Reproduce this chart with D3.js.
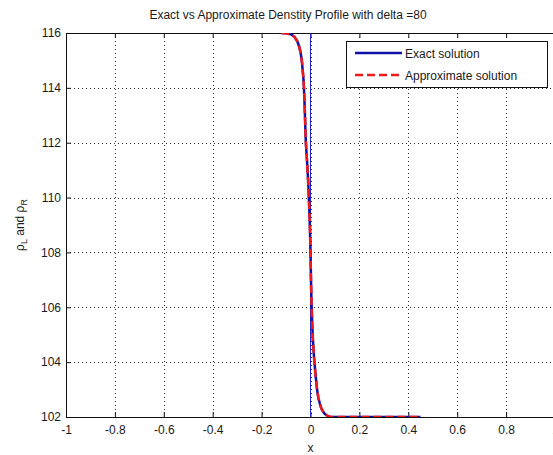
<!DOCTYPE html>
<html><head><meta charset="utf-8">
<script src="https://cdn.jsdelivr.net/npm/d3@7"></script>
<style>
body{margin:0;background:#fff;}
svg{display:block;font-family:"Liberation Sans",Arial,sans-serif;}
</style></head>
<body>
<svg id="c" width="553" height="455"></svg>
<script>
// ---- data ----
const xs = [-0.12,-0.1,-0.08,-0.065,-0.054,-0.046,-0.04,-0.035,-0.032,-0.029,-0.027,-0.025,-0.023,-0.021,-0.019,-0.014,-0.009,-0.005,-0.002,0.0,0.002,0.004,0.007,0.01,0.013,0.016,0.021,0.027,0.032,0.038,0.043,0.048,0.054,0.06,0.066,0.072,0.08,0.1,0.2,0.3,0.45];
const exactY = [116,115.99,115.95,115.85,115.7,115.5,115.26,114.95,114.65,114.35,114.04,113.6,113.1,112.5,112.0,111.3,110.5,109.6,108.8,108.0,107.0,106.2,105.4,104.8,104.35,104.0,103.5,103.0,102.7,102.5,102.35,102.25,102.16,102.1,102.06,102.03,102.01,102.0,102.0,102.0,102.0];
const approxY = [116,115.99,115.95,115.85,115.7,115.5,115.26,114.95,114.65,114.35,114.04,113.6,113.1,112.5,112.0,111.3,110.5,109.6,108.8,108.0,107.0,106.2,105.4,104.8,104.35,104.0,103.5,103.0,102.7,102.5,102.35,102.25,102.16,102.1,102.06,102.03,102.01,102.0,102.0,102.0,102.0];
const xTicks = [-1,-0.8,-0.6,-0.4,-0.2,0,0.2,0.4,0.6,0.8,1];
const xTickLabels = ["-1","-0.8","-0.6","-0.4","-0.2","0","0.2","0.4","0.6","0.8","1"];
const yTicks = [102,104,106,108,110,112,114,116];
const seriesNames = ["Exact solution","Approximate solution"];
const titleText = "Exact vs Approximate Denstity Profile with delta =80";

// ---- layout ----
const L = 66, R = 555, T = 33, B = 417;
const svg = d3.select("#c");
const x = d3.scaleLinear().domain([-1,1]).range([L,R]);
const y = d3.scaleLinear().domain([102,116]).range([B,T]);
const txt = "#1a1a1a";

svg.append("defs").append("clipPath").attr("id","clip")
  .append("rect").attr("x",L).attr("y",T).attr("width",R-L).attr("height",B-T);

// grid
const grid = svg.append("g").attr("stroke","#333").attr("stroke-width",1).attr("stroke-dasharray","1,3");
grid.selectAll(".gx").data(xTicks.filter(d=>d>-1&&d<1)).join("line")
  .attr("x1",d=>Math.round(x(d))+0.5).attr("x2",d=>Math.round(x(d))+0.5).attr("y1",T).attr("y2",B);
grid.selectAll(".gy").data(yTicks.filter(d=>d>102&&d<116)).join("line")
  .attr("y1",d=>Math.round(y(d))+0.5).attr("y2",d=>Math.round(y(d))+0.5).attr("x1",L).attr("x2",R);

// axes (MATLAB style inward ticks)
const axB = d3.axisBottom(x).tickValues(xTicks).tickFormat((d,i)=>xTickLabels[i]).tickSizeInner(-5).tickSizeOuter(0).tickPadding(8);
const gB = svg.append("g").attr("transform",`translate(0,${B})`).call(axB);
const axT = d3.axisTop(x).tickValues(xTicks).tickFormat("").tickSizeInner(-5).tickSizeOuter(0);
const gT = svg.append("g").attr("transform",`translate(0,${T})`).call(axT);
const axL = d3.axisLeft(y).tickValues(yTicks).tickSizeInner(-5).tickSizeOuter(0).tickPadding(5);
const gL = svg.append("g").attr("transform",`translate(${L},0)`).call(axL);
[gB,gT,gL].forEach(g=>{
  g.select(".domain").attr("stroke","#111").attr("stroke-width",1);
  g.selectAll(".tick line").attr("stroke","#111");
  g.selectAll("text").attr("fill",txt).attr("font-size",12).attr("font-family","Liberation Sans, Arial, sans-serif");
});

// vertical reference line at x=0
svg.append("line").attr("x1",x(0)).attr("x2",x(0)).attr("y1",T).attr("y2",B)
  .attr("stroke","#2424c0").attr("stroke-width",1);

// curves
const pts = (ys)=>xs.map((v,i)=>[v,ys[i]]);
const line = d3.line().x(d=>x(d[0])).y(d=>y(d[1])).curve(d3.curveMonotoneY);
const line2 = d3.line().x(d=>x(d[0])).y(d=>y(d[1]));
const plot = svg.append("g").attr("clip-path","url(#clip)");
plot.append("path").attr("d",line2(pts(exactY))).attr("fill","none")
  .attr("stroke","#1010a8").attr("stroke-width",2.5).attr("stroke-linejoin","round");
plot.append("path").attr("d",line2(pts(approxY))).attr("fill","none")
  .attr("stroke","#f01818").attr("stroke-width",2.5).attr("stroke-dasharray","8,4").attr("stroke-linejoin","round");

// title & labels
svg.append("text").attr("x",288).attr("y",19).attr("text-anchor","middle")
  .attr("font-size",12).attr("fill",txt).text(titleText);
svg.append("text").attr("x",x(0)).attr("y",452).attr("text-anchor","middle")
  .attr("font-size",12).attr("fill",txt).text("x");
const yl = svg.append("text").attr("transform",`translate(24,${(T+B)/2}) rotate(-90)`)
  .attr("text-anchor","middle").attr("font-size",12).attr("fill",txt);
yl.append("tspan").text("ρ");
yl.append("tspan").attr("font-size",9).attr("dy",3).text("L");
yl.append("tspan").attr("dy",-3).text(" and ");
yl.append("tspan").text("ρ");
yl.append("tspan").attr("font-size",9).attr("dy",3).text("R");

// legend
const lg = svg.append("g");
lg.append("rect").attr("x",346.5).attr("y",41.5).attr("width",201).attr("height",46)
  .attr("fill","#fff").attr("stroke","#111").attr("stroke-width",1);
const lgY = [53,75];
lg.append("line").attr("x1",355).attr("x2",402).attr("y1",lgY[0]).attr("y2",lgY[0])
  .attr("stroke","#1010a8").attr("stroke-width",2.5);
lg.append("line").attr("x1",355).attr("x2",402).attr("y1",lgY[1]).attr("y2",lgY[1])
  .attr("stroke","#f01818").attr("stroke-width",2.5).attr("stroke-dasharray","8,4");
seriesNames.forEach((n,i)=>{
  lg.append("text").attr("x",405).attr("y",lgY[i]+4.5).attr("font-size",12).attr("fill",txt).text(n);
});
</script>
</body></html>
